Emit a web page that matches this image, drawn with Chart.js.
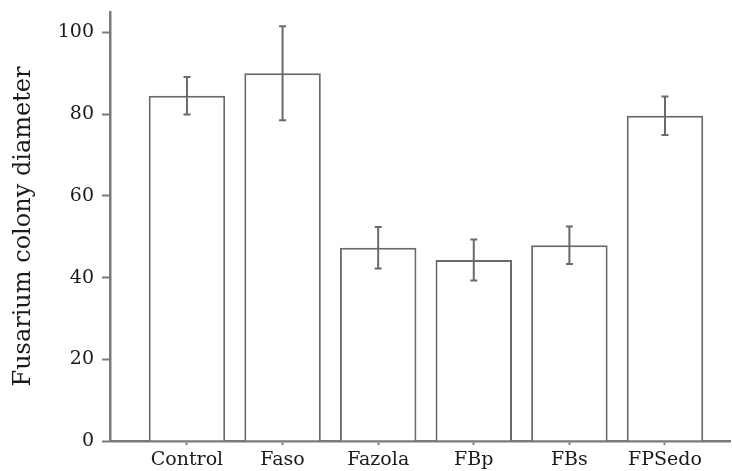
<!DOCTYPE html>
<html><head><meta charset="utf-8">
<script src="https://cdn.jsdelivr.net/npm/chart.js@4.4.1/dist/chart.umd.min.js"></script>
<style>html,body{margin:0;padding:0;background:#fff}</style>
</head><body>
<canvas id="c" width="732" height="471"></canvas>
<script>
const categories = ['Control', 'Faso', 'Fazola', 'FBp', 'FBs', 'FPSedo'];
const values = [84.5, 90.0, 47.3, 44.3, 47.9, 79.6];
const errors = [4.6, 11.5, 5.1, 5.0, 4.6, 4.7];
const yTicks = [0, 20, 40, 60, 80, 100];

const axisColor = '#7a7a7a';
const barColor = '#6a6a6a';
const textColor = '#1a1a1a';

const errorBars = {
  id: 'errorBars',
  afterDatasetsDraw(chart) {
    const ctx = chart.ctx, meta = chart.getDatasetMeta(0), y = chart.scales.y;
    ctx.save();
    ctx.strokeStyle = barColor;
    ctx.lineWidth = 2;
    meta.data.forEach((bar, i) => {
      const x = bar.x;
      const t = y.getPixelForValue(values[i] + errors[i]);
      const b = y.getPixelForValue(values[i] - errors[i]);
      ctx.beginPath();
      ctx.moveTo(x, t); ctx.lineTo(x, b);
      ctx.moveTo(x - 3.5, t); ctx.lineTo(x + 3.5, t);
      ctx.moveTo(x - 3.5, b); ctx.lineTo(x + 3.5, b);
      ctx.stroke();
    });
    ctx.restore();
  }
};

new Chart(document.getElementById('c'), {
  type: 'bar',
  data: {
    datasets: [{
      data: values.map((v, i) => ({ x: i, y: v })),
      backgroundColor: '#ffffff',
      borderColor: barColor,
      borderWidth: 2,
      barPercentage: 1,
      categoryPercentage: 0.8
    }]
  },
  options: {
    responsive: false,
    animation: false,
    devicePixelRatio: 1,
    layout: { padding: { left: 0, top: 12, right: 2, bottom: 0 } },
    plugins: { legend: { display: false }, tooltip: { enabled: false } },
    scales: {
      x: {
        type: 'linear',
        min: -0.805,
        max: 5.68,
        offset: false,
        afterBuildTicks: s => { s.ticks = categories.map((c, i) => ({ value: i })); },
        afterFit: s => { s.height = 30; s.paddingLeft = 0; s.paddingRight = 0; },
        ticks: {
          autoSkip: false, maxRotation: 0, padding: 4,
          callback: v => categories[v],
          font: { family: 'DejaVu Serif', size: 19 }, color: textColor
        },
        grid: { display: true, offset: false, drawOnChartArea: false, drawTicks: true, tickLength: 4, tickColor: axisColor, tickWidth: 2 },
        border: { display: true, color: axisColor, width: 2.5 }
      },
      y: {
        min: 0,
        max: 105,
        afterBuildTicks: s => { s.ticks = yTicks.map(v => ({ value: v })); },
        afterFit: s => { s.width = 110; s.paddingTop = 0; s.paddingBottom = 0; },
        ticks: {
          padding: 8,
          font: { family: 'DejaVu Serif', size: 19 }, color: textColor
        },
        title: {
          display: true, text: 'Fusarium colony diameter',
          font: { family: 'DejaVu Serif', size: 24 }, color: textColor,
          padding: { top: 9, bottom: 0 }
        },
        grid: { display: true, drawOnChartArea: false, drawTicks: true, tickLength: 8, tickColor: axisColor, tickWidth: 2 },
        border: { display: true, color: axisColor, width: 2.5 }
      }
    }
  },
  plugins: [errorBars]
});
</script>
</body></html>
